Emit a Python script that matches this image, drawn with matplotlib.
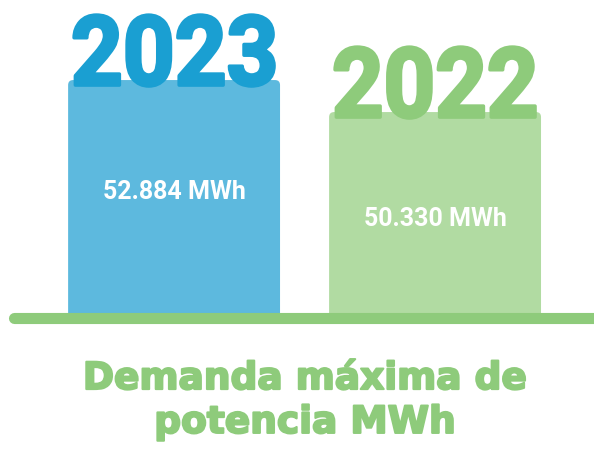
import numpy as np
import matplotlib.pyplot as plt
from matplotlib.patches import FancyBboxPatch, PathPatch
from matplotlib.lines import Line2D
from matplotlib.textpath import TextPath
from matplotlib.font_manager import FontProperties
import matplotlib.transforms as mtransforms
import matplotlib.patheffects as pe

years = ['2023', '2022']
demand = [52884, 50330]
labels = ['52.884 MWh', '50.330 MWh']
bar_colors = ['#5DB9DE', '#B1DBA2']
year_colors = ['#1A9FD2', '#8ECB7B']
title = 'Demanda máxima de\npotencia MWh'

W, H = 594, 449
fig = plt.figure(figsize=(W / 100, H / 100), dpi=100)
base_px = 318  # baseline, pixels from top
ax = fig.add_axes([0, (H - base_px) / H, 1, base_px / H])
ax.set_xlim(-0.667, 1.609)
ax.set_ylim(33900, 59270)
ax.axis('off')

x = np.arange(len(demand))
bars = ax.bar(x, demand, width=0.812, color=bar_colors)

# swap plain bars for slightly rounded ones
x_per_px = (1.609 + 0.667) / W
y_per_px = (59270 - 33900) / base_px
for b, c in zip(bars, bar_colors):
    b.set_visible(False)
    r = FancyBboxPatch((b.get_x(), b.get_y()), b.get_width(), b.get_height(),
                       boxstyle=f'round,pad=0,rounding_size={5 * x_per_px}',
                       mutation_aspect=y_per_px / x_per_px,
                       fc=c, ec='none', zorder=2)
    ax.add_patch(r)

# big condensed year numbers sitting on each bar
fp = FontProperties(family='Roboto', weight='bold')
for xi, v, yr, yc, lab in zip(x, demand, years, year_colors, labels):
    tp = TextPath((0, 0), yr, size=1, prop=fp)
    ext = tp.get_extents()
    tr = (mtransforms.Affine2D()
          .translate(-(ext.x0 + ext.width / 2), -ext.y0)
          .scale(200 / ext.width, 71 / ext.height)
          .translate(0, -6)
          + mtransforms.ScaledTranslation(xi, v, ax.transData))
    ax.add_patch(PathPatch(tp, transform=tr, fc=yc, ec=yc, lw=2.5,
                           joinstyle='round', zorder=3))
    ax.text(xi, v * 0.831, lab, ha='center', va='center', fontsize=18,
            family='Roboto', weight='bold', color='white', zorder=3)

fig.add_artist(Line2D([14 / W, 1.02], [(H - base_px) / H] * 2, lw=8,
                      color='#8ECB7B', solid_capstyle='round', zorder=5))

fig.text(305 / W, 1 - 401 / H, title, ha='center', va='center', fontsize=27,
         family='DejaVu Sans', weight='bold', color='#8ECB7B', linespacing=1.28,
         path_effects=[pe.withStroke(linewidth=1.5, foreground='#8ECB7B')])

fig.savefig('out.png', dpi=100)
